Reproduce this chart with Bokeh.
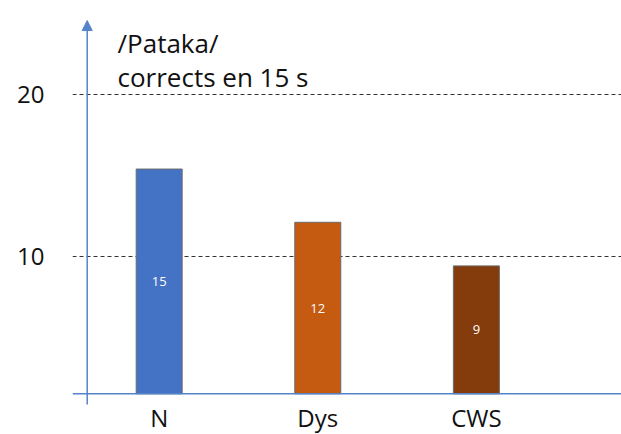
from bokeh.plotting import figure
from bokeh.models import Range1d, FixedTicker, ColumnDataSource, Label, Arrow, NormalHead, Span
from bokeh.core.properties import value
from bokeh.embed import file_html
from bokeh.resources import INLINE

# ---- data ----
categories = ["N", "Dys", "CWS"]
values = [15.4, 12.1, 9.4]
value_labels = ["15", "12", "9"]
y_ticks = [10, 20]
title_lines = ["/Pataka/", "corrects en 15 s"]

# ---- style ----
bar_colors = ["#4472C4", "#C55A11", "#843C0C"]
axis_blue = "#5583C9"
FONT = "Open Sans"
Y_BASE = 1.475              # value where the drawn x-axis (baseline) sits
Y_START, Y_END = -1.047, 25.843
X_START, X_END = -0.0465, 3.415

p = figure(width=621, height=434, output_backend="svg", toolbar_location=None,
           x_range=Range1d(X_START, X_END),
           y_range=Range1d(Y_START, Y_END), x_axis_location=None,
           min_border_left=72, min_border_right=0, min_border_top=0, min_border_bottom=0)
p.outline_line_color = None
p.background_fill_color = "white"
p.border_fill_color = "white"

# category slots: one unit per category, centred at i + 0.5
xs = [i + 0.5 for i in range(len(categories))]
bottoms = [Y_BASE] * len(values)
mids = [(b + v) / 2 for b, v in zip(bottoms, values)]
src = ColumnDataSource(dict(x=xs, cat=categories, top=values, bottom=bottoms, mid=mids,
                            lab=value_labels, color=bar_colors, base=bottoms))

# grid
p.xgrid.grid_line_color = None
p.ygrid.ticker = FixedTicker(ticks=y_ticks)
p.ygrid.grid_line_color = "#333333"
p.ygrid.grid_line_dash = "4 3"
p.ygrid.grid_line_width = 1

# baseline (x axis line)
p.add_layout(Span(location=Y_BASE, dimension="width", line_color=axis_blue, line_width=1.5))

p.vbar(x="x", top="top", bottom="bottom", width=0.29, source=src,
       fill_color="color", line_color="#6b6b6b", line_width=1)
p.text(x="x", y="mid", text="lab", source=src, text_color="white",
       text_font=value(FONT), text_font_size="13px", text_align="center",
       text_baseline="middle")

# category labels under the baseline
p.text(x="x", y="base", text="cat", source=src, text_color="#111111",
       text_font=value(FONT), text_font_size="24px", text_align="center",
       text_baseline="alphabetic", y_offset=24)

# y axis (labels only)
yax = p.yaxis[0]
yax.ticker = FixedTicker(ticks=y_ticks)
yax.axis_line_color = None
yax.major_tick_line_color = None
yax.minor_tick_line_color = None
yax.major_tick_out = 0
yax.major_tick_in = 0
yax.major_label_standoff = 28
yax.major_label_text_font = FONT
yax.major_label_text_font_size = "24px"
yax.major_label_text_color = "#111111"

# vertical axis arrow
p.add_layout(Arrow(end=NormalHead(size=10, fill_color=axis_blue, line_color=axis_blue),
                   x_start=0.0462, y_start=0.812, x_end=0.0462, y_end=24.6,
                   line_color=axis_blue, line_width=1.5))

# title
for txt, yv in zip(title_lines, [23.18, 21.13]):
    p.add_layout(Label(x=0.2373, y=yv, text=txt, text_font=FONT, text_font_size="26px",
                       text_color="#111111", text_baseline="alphabetic"))

open("out.html", "w").write(file_html(p, INLINE))
